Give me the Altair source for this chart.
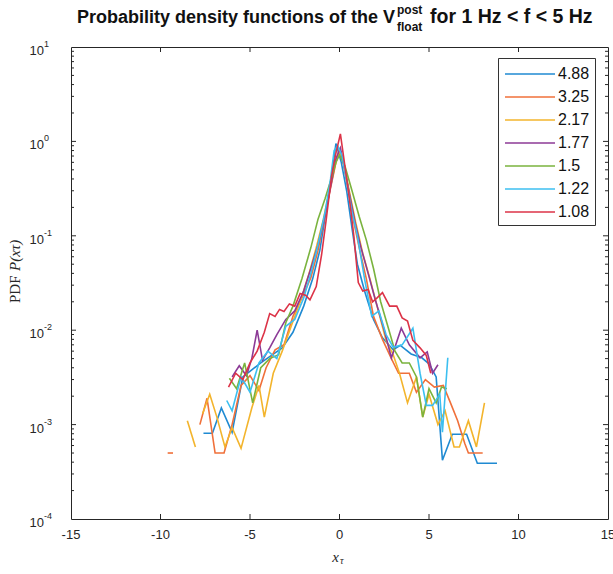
import altair as alt
import pandas as pd

# ---------------- data ----------------
series_labels = ["4.88", "3.25", "2.17", "1.77", "1.5", "1.22", "1.08"]
series_colors = ["#1f8ad2", "#f0703a", "#f3b42c", "#8c3a96", "#7ab33e", "#3cbff0", "#dc3347"]

s488_x = [-7.6, -7.1, -6.6, -6.0, -5.4, -4.9, -4.4, -3.8, -3.2, -2.6, -2.0, -1.5, -1.1, -0.8, -0.5, -0.2, 0.1, 0.4, 0.7, 1.0,
          1.4, 1.9, 2.4, 3.0, 3.4, 4.0, 4.6, 5.0, 5.4, 5.75, 6.3, 7.1, 7.7, 8.8]
s488_y = [8.1e-4, 8.1e-4, 1.5e-3, 8.3e-4, 3.2e-3, 3.8e-3, 4.5e-3, 5.4e-3, 6.5e-3, 9.5e-3, 0.018, 0.035, 0.07, 0.16, 0.35,
          0.95, 0.6, 0.3, 0.12, 0.05, 0.026, 0.013, 8.3e-3, 6.2e-3, 6.9e-3, 5.6e-3, 5.1e-3, 4.4e-3, 3.2e-3, 4.2e-4, 7.9e-4,
          7.9e-4, 3.9e-4, 3.9e-4]

s325a_x = [-9.6, -9.3]
s325a_y = [5.0e-4, 5.0e-4]
s325_x = [-7.8, -7.4, -6.95, -6.45, -6.0, -5.5, -5.0, -4.5, -4.1, -3.6, -3.1, -2.6, -2.1, -1.6, -1.2, -0.8, -0.5, -0.2,
          0.0, 0.2, 0.5, 0.8, 1.1, 1.5, 1.9, 2.4, 2.9, 3.3, 3.9, 4.3, 4.8, 5.3, 5.8, 6.2, 6.6, 7.0, 7.2, 8.0]
s325_y = [1.0e-3, 1.9e-3, 5.0e-4, 5.0e-4, 1.0e-3, 2.6e-3, 3.3e-3, 2.3e-3, 4.0e-3, 6.2e-3, 7.0e-3, 0.014, 0.022, 0.036,
          0.07, 0.17, 0.32, 0.6, 0.85, 0.6, 0.3, 0.14, 0.075, 0.035, 0.014, 8.0e-3, 5.0e-3, 3.5e-3, 3.5e-3, 2.2e-3,
          3.0e-3, 2.5e-3, 2.6e-3, 1.7e-3, 1.1e-3, 6.3e-4, 5.0e-4, 5.0e-4]

s217a_x = [-8.5, -8.05]
s217a_y = [1.1e-3, 5.8e-4]
s217_x = [-7.65, -7.25, -6.85, -6.4, -6.0, -5.5, -4.9, -4.5, -4.2, -3.7, -3.2, -2.7, -2.2, -1.7, -1.3, -0.9, -0.5, -0.2,
          0.0, 0.2, 0.5, 0.9, 1.3, 1.7, 2.1, 2.6, 3.0, 3.35, 3.8, 4.3, 4.65, 5.0, 5.5, 5.9, 6.4, 6.7, 7.2, 7.65, 8.1]
s217_y = [1.3e-3, 2.1e-3, 1.2e-3, 5.8e-4, 9.3e-4, 5.6e-4, 1.5e-3, 2.6e-3, 1.2e-3, 3.5e-3, 6.0e-3, 0.011, 0.02, 0.04,
          0.075, 0.15, 0.34, 0.6, 0.8, 0.62, 0.33, 0.14, 0.065, 0.035, 0.018, 7.8e-3, 5.5e-3, 3.5e-3, 1.7e-3, 3.2e-3,
          1.2e-3, 2.1e-3, 1.0e-3, 1.4e-3, 5.8e-4, 5.8e-4, 1.1e-3, 5.8e-4, 1.7e-3]

s177_x = [-6.0, -5.6, -5.2, -4.9, -4.6, -4.3, -3.9, -3.5, -3.0, -2.5, -2.0, -1.6, -1.2, -0.8, -0.5, -0.2, 0.05, 0.3, 0.6,
          0.9, 1.2, 1.6, 2.0, 2.5, 2.9, 3.45, 3.9, 4.5, 4.9, 5.2, 5.5]
s177_y = [3.2e-3, 4.2e-3, 3.3e-3, 5.0e-3, 0.01, 4.8e-3, 6.5e-3, 9.0e-3, 0.013, 0.016, 0.026, 0.045, 0.08, 0.17, 0.33,
          0.65, 0.85, 0.5, 0.25, 0.13, 0.075, 0.04, 0.021, 0.01, 5.1e-3, 0.0105, 7.0e-3, 5.1e-3, 5.9e-3, 3.5e-3, 4.3e-3]

s150_x = [-6.15, -5.75, -5.3, -4.85, -4.4, -3.9, -3.4, -3.0, -2.6, -2.1, -1.6, -1.2, -0.8, -0.5, -0.2, 0.0, 0.3, 0.7,
          1.1, 1.5, 1.9, 2.3, 2.7, 3.1, 3.5, 3.9, 4.3, 4.65, 5.0, 5.4, 5.7, 6.0]
s150_y = [3.1e-3, 2.4e-3, 4.5e-3, 1.7e-3, 4.0e-3, 5.0e-3, 5.5e-3, 0.012, 0.018, 0.035, 0.075, 0.15, 0.25, 0.38, 0.6,
          0.72, 0.55, 0.3, 0.16, 0.09, 0.045, 0.02, 0.011, 6.0e-3, 4.5e-3, 4.5e-3, 3.2e-3, 1.2e-3, 2.4e-3, 1.7e-3,
          2.5e-3, 2.4e-3]

s122_x = [-6.3, -6.0, -5.5, -5.0, -4.5, -4.0, -3.5, -3.0, -2.5, -2.0, -1.6, -1.2, -0.8, -0.5, -0.3, -0.1, 0.15, 0.4,
          0.7, 1.0, 1.4, 1.8, 2.2, 2.6, 3.0, 3.5, 4.1, 4.5, 4.85, 5.2, 5.6, 5.75, 6.05]
s122_y = [1.8e-3, 1.4e-3, 3.2e-3, 2.2e-3, 4.5e-3, 6.0e-3, 5.0e-3, 0.011, 0.013, 0.022, 0.04, 0.08, 0.18, 0.4, 0.8,
          0.9, 0.7, 0.38, 0.18, 0.1, 0.035, 0.014, 0.016, 9.0e-3, 6.6e-3, 7.0e-3, 0.0105, 3.5e-3, 1.6e-3, 1.6e-3,
          2.1e-3, 8.3e-4, 5.1e-3]

s108_x = [-6.2, -5.8, -5.4, -5.0, -4.6, -4.2, -3.9, -3.6, -3.35, -3.1, -2.8, -2.5, -2.2, -1.9, -1.65, -1.3, -1.0,
          -0.75, -0.45, -0.2, 0.05, 0.3, 0.55, 0.8, 1.05, 1.3, 1.6, 1.85, 2.1, 2.4, 2.8, 3.2, 3.5, 3.8, 4.1, 4.5,
          4.85, 5.1]
s108_y = [2.5e-3, 3.5e-3, 3.0e-3, 4.5e-3, 6.0e-3, 9.5e-3, 0.015, 0.014, 0.0166, 0.0158, 0.019, 0.018, 0.0245, 0.0235,
          0.021, 0.029, 0.063, 0.145, 0.42, 0.75, 1.2, 0.55, 0.25, 0.1, 0.032, 0.026, 0.027, 0.02, 0.022, 0.025,
          0.018, 0.018, 0.0135, 0.0125, 7.8e-3, 6.5e-3, 5.4e-3, 3.5e-3]

x_tick_values = [-15, -10, -5, 0, 5, 10, 15]
x_tick_labels = ["-15", "-10", "-5", "0", "5", "10", "15"]
x_inner_ticks = [-10, -5, 0, 5, 10]
y_major_values = [1e-4, 1e-3, 1e-2, 1e-1, 1.0, 10.0]
y_major_exps = ["-4", "-3", "-2", "-1", "0", "1"]
y_minor_values = [m * 10.0 ** e for e in range(-4, 1) for m in range(2, 10)]

title_left = "Probability density functions of the V"
title_sup = "post"
title_sub = "float"
title_right = "for 1 Hz < f < 5 Hz"
ytitle_a = "PDF"
ytitle_b = "P(xτ)"
xtitle_a = "x"
xtitle_b = "τ"

# ---------------- table ----------------
segments = [
    ("4.88", "a", s488_x, s488_y),
    ("3.25", "a", s325a_x, s325a_y),
    ("3.25", "b", s325_x, s325_y),
    ("2.17", "a", s217a_x, s217a_y),
    ("2.17", "b", s217_x, s217_y),
    ("1.77", "a", s177_x, s177_y),
    ("1.5", "a", s150_x, s150_y),
    ("1.22", "a", s122_x, s122_y),
    ("1.08", "a", s108_x, s108_y),
]
rows = []
for name, seg, xs, ys in segments:
    for xv, yv in zip(xs, ys):
        rows.append({"x": xv, "y": yv, "series": name, "seg": name + "_" + seg})
df = pd.DataFrame(rows)

W, H = 537, 472
AX = "#262626"
xscale = alt.Scale(domain=[-15, 15], nice=False, zero=False)
yscale = alt.Scale(type="log", domain=[1e-4, 10], nice=False)

lines = alt.Chart(df).mark_line(strokeWidth=1.6, clip=True).encode(
    x=alt.X("x:Q", scale=xscale, axis=None),
    y=alt.Y("y:Q", scale=yscale, axis=None),
    color=alt.Color("series:N",
                    scale=alt.Scale(domain=series_labels, range=series_colors),
                    legend=alt.Legend(title=None, orient="none", legendX=427, legendY=11,
                                      symbolType="M-2.5,0H2.5", symbolSize=400, symbolStrokeWidth=1.6,
                                      symbolOffset=16,
                                      labelFontSize=16, labelFont="Liberation Sans", labelColor="#111111",
                                      strokeColor="#333333", fillColor="white", padding=5,
                                      rowPadding=4, labelOffset=17)),
    detail="seg:N",
)

xt_df = pd.DataFrame({"v": x_inner_ticks})
bottom_ticks = alt.Chart(xt_df).mark_rule(color=AX).encode(
    x=alt.X("v:Q", scale=xscale, axis=None), y=alt.value(H), y2=alt.value(H - 5))
top_ticks = alt.Chart(xt_df).mark_rule(color=AX).encode(
    x=alt.X("v:Q", scale=xscale, axis=None), y=alt.value(0), y2=alt.value(5))

xlab_df = pd.DataFrame({"v": x_tick_values, "t": x_tick_labels})
xlabels = alt.Chart(xlab_df).mark_text(align="center", baseline="middle", fontSize=13,
                                       font="Liberation Sans", color=AX).encode(
    x=alt.X("v:Q", scale=xscale, axis=None), y=alt.value(H + 16), text="t:N")

ymaj_df = pd.DataFrame({"v": y_major_values[1:-1]})
ymin_df = pd.DataFrame({"v": y_minor_values})
left_major = alt.Chart(ymaj_df).mark_rule(color=AX).encode(
    y=alt.Y("v:Q", scale=yscale, axis=None), x=alt.value(0), x2=alt.value(5))
right_major = alt.Chart(ymaj_df).mark_rule(color=AX).encode(
    y=alt.Y("v:Q", scale=yscale, axis=None), x=alt.value(W), x2=alt.value(W - 5))
left_minor = alt.Chart(ymin_df).mark_rule(color=AX).encode(
    y=alt.Y("v:Q", scale=yscale, axis=None), x=alt.value(0), x2=alt.value(3))
right_minor = alt.Chart(ymin_df).mark_rule(color=AX).encode(
    y=alt.Y("v:Q", scale=yscale, axis=None), x=alt.value(W), x2=alt.value(W - 3))

ylab_df = pd.DataFrame({"v": y_major_values, "base": ["10"] * len(y_major_values), "exp": y_major_exps})
ylab_base = alt.Chart(ylab_df).mark_text(align="right", baseline="middle", fontSize=13, dy=4,
                                         font="Liberation Sans", color=AX).encode(
    y=alt.Y("v:Q", scale=yscale, axis=None), x=alt.value(-27), text="base:N")
ylab_exp = alt.Chart(ylab_df).mark_text(align="left", baseline="middle", fontSize=9, dy=-3,
                                        font="Liberation Sans", color=AX).encode(
    y=alt.Y("v:Q", scale=yscale, axis=None), x=alt.value(-27), text="exp:N")


def label(txt, x, y, **kw):
    return alt.Chart(pd.DataFrame({"t": [txt]})).mark_text(**kw).encode(
        x=alt.value(x), y=alt.value(y), text="t:N")


tl = label(title_left, 324, -24, align="right", baseline="alphabetic", fontSize=18, fontWeight="bold",
           font="Liberation Sans", color="#111111")
tsup = label(title_sup, 326, -33, align="left", baseline="alphabetic", fontSize=12, fontWeight="bold",
             font="Liberation Sans", color="#111111")
tsub = label(title_sub, 326, -16, align="left", baseline="alphabetic", fontSize=12, fontWeight="bold",
             font="Liberation Sans", color="#111111")
tr = label(title_right, 359, -24, align="left", baseline="alphabetic", fontSize=19.5, fontWeight="bold",
           font="Liberation Sans", color="#111111")

yta = label(ytitle_a, -56, 256, align="left", baseline="middle", angle=270, fontSize=15,
            font="Liberation Serif", color=AX)
ytb = label(ytitle_b, -56, 224, align="left", baseline="middle", angle=270, fontSize=15,
            font="Liberation Serif", fontStyle="italic", color=AX)
xta = label(xtitle_a, 268, 510, align="right", baseline="middle", fontSize=15,
            font="Liberation Serif", fontStyle="italic", color=AX)
xtb = label(xtitle_b, 269, 514, align="left", baseline="middle", fontSize=10,
            font="Liberation Serif", fontStyle="italic", color=AX)

chart = alt.layer(
    lines, bottom_ticks, top_ticks, xlabels, left_major, right_major, left_minor, right_minor,
    ylab_base, ylab_exp, tl, tsup, tsub, tr, yta, ytb, xta, xtb,
).properties(
    width=W, height=H,
    padding={"left": 71, "top": 47, "right": 5, "bottom": 55},
    autosize=alt.AutoSizeParams(type="none"),
).configure_view(stroke=AX, strokeWidth=1)

chart.save("out.html", embed_options={"renderer": "svg", "actions": False})
